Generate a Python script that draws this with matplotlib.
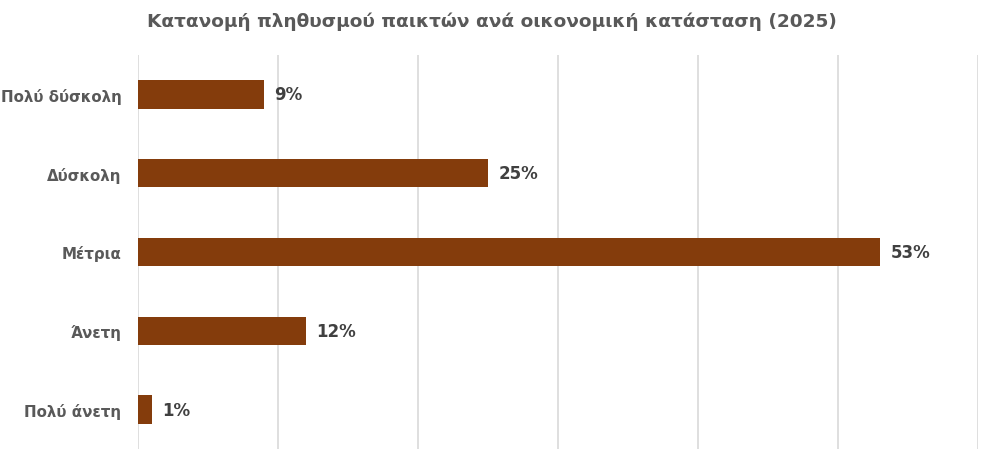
import matplotlib
matplotlib.use("Agg")
import matplotlib.pyplot as plt

categories = ["Πολύ δύσκολη", "Δύσκολη", "Μέτρια", "Άνετη", "Πολύ άνετη"]
values = [9, 25, 53, 12, 1]
labels = ["9%", "25%", "53%", "12%", "1%"]
title = "Κατανομή πληθυσμού παικτών ανά οικονομική κατάσταση (2025)"

bar_color = "#843c0c"
text_color = "#595959"
value_color = "#404040"

plt.rcParams['font.family'] = ['DejaVu Sans']

fig = plt.figure(figsize=(9.94, 4.64), dpi=100)
ax = fig.add_axes([138/994, 14/464, (978-138)/994, (451-57)/464])

y = list(range(len(categories)))
ax.barh(y, values, height=0.36, color=bar_color, zorder=3)
for yi, v, lab in zip(y, values, labels):
    ax.text(v + 0.75, yi, lab, va="center", ha="left", fontsize=12,
            fontweight="bold", color=value_color)

ax.set_xlim(0, 60)
ax.set_ylim(4.5, -0.5)
ax.set_xticks(range(0, 61, 10))
ax.set_xticklabels([])
ax.tick_params(axis="x", length=0)
ax.set_yticks(y)
ax.set_yticklabels(categories, fontsize=10.8, fontweight="bold", color=text_color)
ax.tick_params(axis="y", length=0, pad=12)
ax.grid(axis="x", color="#d9d9d9", linewidth=1.2, zorder=0)
for s in ax.spines.values():
    s.set_visible(False)

fig.text(0.495, 1 - 22/464, title, ha="center", va="center", fontsize=13.3,
         fontweight="bold", color=text_color)

fig.savefig("out.png", dpi=100)
